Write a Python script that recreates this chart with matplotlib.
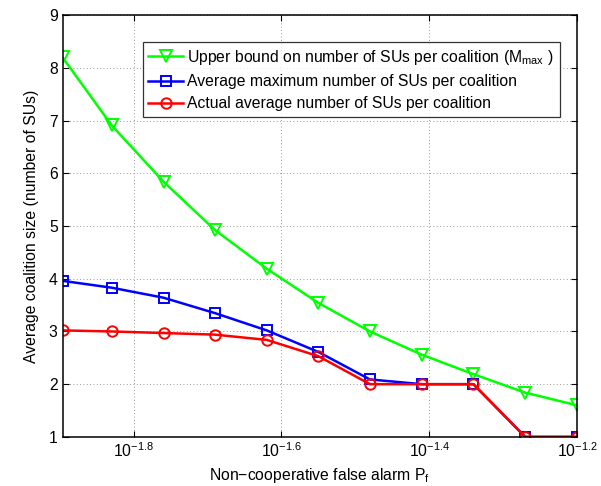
#!/usr/bin/env python3

import numpy as np
import matplotlib
matplotlib.use('Agg')
from matplotlib import pyplot as plt
from matplotlib.ticker import FixedLocator, FixedFormatter, NullLocator

plt.rcParams['font.family'] = ['Liberation Sans', 'DejaVu Sans']
plt.rcParams['mathtext.fontset'] = 'custom'
plt.rcParams['mathtext.rm'] = 'Liberation Sans'
plt.rcParams['mathtext.it'] = 'Liberation Sans'

# false alarm probability (log-spaced, about 10^-1.9 ... 10^-1.2)
pf = [0.0127, 0.0148, 0.0174, 0.0204, 0.0240, 0.0282,
      0.0331, 0.0389, 0.0457, 0.0537, 0.0631]

upper_bound = [8.20, 6.91, 5.84, 4.93, 4.19, 3.54, 3.00, 2.56, 2.19, 1.84, 1.60]
avg_max = [3.96, 3.83, 3.64, 3.35, 3.02, 2.61, 2.09, 2.00, 2.00, 1.00, 1.00]
actual_avg = [3.02, 3.00, 2.97, 2.94, 2.84, 2.53, 2.00, 2.00, 2.00, 1.00, 1.00]

xtick_exp = [-1.8, -1.6, -1.4, -1.2]
xtick_labels = ['$10^{-1.8}$', '$10^{-1.6}$', '$10^{-1.4}$', '$10^{-1.2}$']
yticks = [1, 2, 3, 4, 5, 6, 7, 8, 9]

fig = plt.figure(figsize=(6.01, 4.86), dpi=100)
ax = fig.add_axes([0.104, 0.101, 0.856, 0.868])

lw = 1.8
ms = 7.5
ax.plot(pf, upper_bound, color='#00ff00', lw=lw, marker='v', ms=ms + 1,
        mfc='none', mew=1.4,
        label='Upper bound on number of SUs per coalition (M$_{max}$ )')
ax.plot(pf, avg_max, color='#0000ff', lw=lw, marker='s', ms=ms - 0.5,
        mfc='none', mew=1.4,
        label='Average maximum number of SUs per coalition')
ax.plot(pf, actual_avg, color='#ff0000', lw=lw, marker='o', ms=ms,
        mfc='none', mew=1.4,
        label='Actual average number of SUs per coalition')

ax.set_xscale('log')
ax.set_xlim(pf[0], pf[-1])
ax.set_ylim(1, 9)
ax.xaxis.set_major_locator(FixedLocator([10 ** e for e in xtick_exp]))
ax.xaxis.set_major_formatter(FixedFormatter(xtick_labels))
ax.xaxis.set_minor_locator(NullLocator())
ax.set_yticks(yticks)

ax.tick_params(direction='in', top=True, right=True, labelsize=11.3,
               length=4, width=0.8)
for s in ax.spines.values():
    s.set_linewidth(1.1)

ax.grid(True, which='major', linestyle=(0, (1, 3)), color='#777777',
        linewidth=0.6)

ax.set_xlabel('Non\u2212cooperative false alarm P$_{f}$', fontsize=11.3)
ax.set_ylabel('Average coalition size (number of SUs)', fontsize=11.3,
              labelpad=7)

leg = ax.legend(loc='upper left', bbox_to_anchor=(0.156, 0.935),
                fontsize=11.3, frameon=True, fancybox=False,
                handlelength=2.2, handletextpad=0.3, borderpad=0.35,
                labelspacing=0.45, borderaxespad=0)
leg.get_frame().set_edgecolor('black')
leg.get_frame().set_linewidth(0.9)

plt.savefig('out.png', dpi=100)
